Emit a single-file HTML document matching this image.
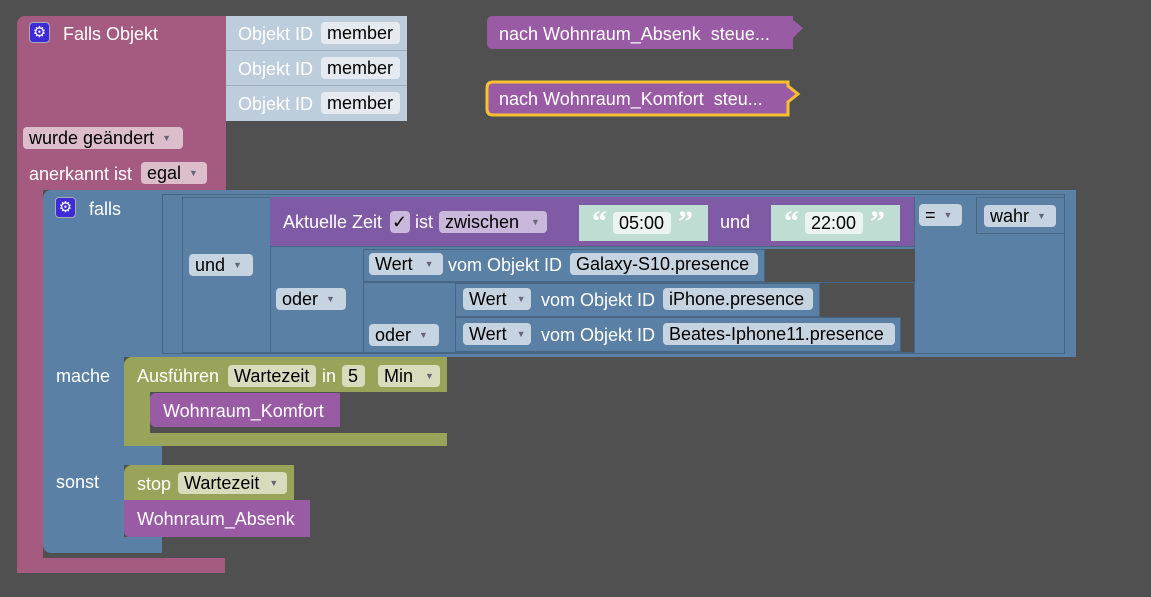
<!DOCTYPE html>
<html><head><meta charset="utf-8"><style>
body{margin:0;width:1151px;height:597px;background:#505050;overflow:hidden;position:relative;font-family:"Liberation Sans",sans-serif;font-size:18px}
div{position:absolute;box-sizing:border-box}
.t{color:#fff;white-space:nowrap;line-height:20px}
.f{border-radius:4px;color:#000;white-space:nowrap;line-height:22px;height:22px;padding-left:6px}
.ar{font-size:9px;margin-left:8px;vertical-align:3px;color:#667}
.pk{background:#a55b80}
.bl{background:#5b80a5}
.ln{border:1px solid #476684}
.pu{background:#805ba5}
.pr{background:#9a5ba5}
.ol{background:#9aa35a}
.gear{width:21px;height:21px;background:#3c2bd6;border:1px solid #aab;border-radius:4px;color:#fff;font-size:15px;text-align:center;line-height:19px}
.q{color:#fff;font-size:30px;line-height:30px;font-family:"Liberation Serif",serif;font-weight:bold}
</style></head><body>
<!-- pink block -->
<div class="pk" style="left:17px;top:16px;width:209px;height:174px;border-radius:8px 0 0 0"></div>
<div class="pk" style="left:17px;top:188px;width:26px;height:385px;border-radius:0 0 0 8px"></div>
<div class="pk" style="left:17px;top:558px;width:208px;height:15px"></div>
<div class="gear" style="left:29px;top:22px">⚙</div>
<div class="t" style="left:63px;top:24px">Falls Objekt</div>
<div style="left:226px;top:16px;width:181px;height:105px;background:#bdcddc"></div>
<div style="left:226px;top:50px;width:181px;height:1px;background:#9fb0c0"></div>
<div style="left:226px;top:85px;width:181px;height:1px;background:#9fb0c0"></div>
<div class="t" style="left:238px;top:24px">Objekt ID</div>
<div class="t" style="left:238px;top:59px">Objekt ID</div>
<div class="t" style="left:238px;top:94px">Objekt ID</div>
<div class="f" style="left:321px;top:22px;width:79px;background:#e4eaf0">member</div>
<div class="f" style="left:321px;top:57px;width:79px;background:#e4eaf0">member</div>
<div class="f" style="left:321px;top:92px;width:79px;background:#e4eaf0">member</div>
<div class="f" style="left:23px;top:127px;width:160px;background:#dbbdcc">wurde geändert<span class="ar">▼</span></div>
<div class="t" style="left:29px;top:164px">anerkannt ist</div>
<div class="f" style="left:141px;top:162px;width:66px;background:#dbbdcc">egal<span class="ar">▼</span></div>
<!-- blue falls -->
<div class="bl" style="left:43px;top:190px;width:1033px;height:167px;border-radius:8px 0 0 0"></div>
<div class="bl" style="left:43px;top:350px;width:81px;height:203px;border-radius:0 0 0 8px"></div>
<div class="bl" style="left:124px;top:446px;width:38px;height:19px"></div>
<div class="bl" style="left:124px;top:537px;width:38px;height:16px"></div>
<div class="gear" style="left:55px;top:197px">⚙</div>
<div class="t" style="left:89px;top:199px">falls</div>
<div class="ln" style="left:162px;top:194px;width:903px;height:160px"></div>
<div class="ln" style="left:182px;top:197px;width:733px;height:156px"></div>
<div class="ln" style="left:976px;top:197px;width:89px;height:37px"></div>
<div class="ln" style="left:270px;top:246px;width:645px;height:107px"></div>
<div class="ln" style="left:363px;top:282px;width:552px;height:71px"></div>
<div class="f" style="left:189px;top:254px;width:64px;background:#c6d3e0">und<span class="ar">▼</span></div>
<div class="f" style="left:276px;top:288px;width:70px;background:#c6d3e0">oder<span class="ar">▼</span></div>
<div class="f" style="left:369px;top:324px;width:70px;background:#c6d3e0">oder<span class="ar">▼</span></div>
<div class="f" style="left:919px;top:204px;width:43px;background:#c6d3e0">=<span class="ar">▼</span></div>
<div class="f" style="left:984px;top:205px;width:72px;background:#c6d3e0">wahr<span class="ar">▼</span></div>
<div style="left:765px;top:249px;width:150px;height:33px;background:#505050"></div>
<div style="left:820px;top:283px;width:94px;height:34px;background:#505050"></div>
<div style="left:901px;top:317px;width:13px;height:35px;background:#505050"></div>
<!-- aktuelle zeit -->
<div class="pu" style="left:270px;top:197px;width:644px;height:49px"></div>
<div class="t" style="left:283px;top:212px">Aktuelle Zeit</div>
<div class="f" style="left:390px;top:211px;width:20px;background:#c9b7dc;padding-left:2px">✓</div>
<div class="t" style="left:415px;top:212px">ist</div>
<div class="f" style="left:439px;top:211px;width:108px;background:#c9b7dc">zwischen<span class="ar" style="margin-left:12px">▼</span></div>
<div style="left:579px;top:205px;width:129px;height:36px;background:#c0ddd3"></div>
<div style="left:771px;top:205px;width:129px;height:36px;background:#c0ddd3"></div>
<div class="q" style="left:592px;top:207px">“</div>
<div class="q" style="left:678px;top:207px">”</div>
<div class="q" style="left:784px;top:207px">“</div>
<div class="q" style="left:870px;top:207px">”</div>
<div class="f" style="left:613px;top:212px;width:58px;background:#ebf4f1">05:00</div>
<div class="f" style="left:805px;top:212px;width:58px;background:#ebf4f1">22:00</div>
<div class="t" style="left:720px;top:212px">und</div>
<!-- rows -->
<div class="bl ln" style="left:363px;top:249px;width:402px;height:33px"></div>
<div class="f" style="left:369px;top:253px;width:74px;background:#c6d3e0">Wert<span class="ar" style="margin-left:12px">▼</span></div>
<div class="t" style="left:448px;top:255px">vom Objekt ID</div>
<div class="f" style="left:570px;top:253px;width:188px;background:#c6d3e0">Galaxy-S10.presence</div>
<div class="bl ln" style="left:455px;top:283px;width:365px;height:34px"></div>
<div class="f" style="left:463px;top:288px;width:68px;background:#c6d3e0">Wert<span class="ar" style="margin-left:10px">▼</span></div>
<div class="t" style="left:541px;top:290px">vom Objekt ID</div>
<div class="f" style="left:663px;top:288px;width:150px;background:#c6d3e0">iPhone.presence</div>
<div class="bl ln" style="left:455px;top:317px;width:446px;height:35px"></div>
<div class="f" style="left:463px;top:323px;width:68px;background:#c6d3e0">Wert<span class="ar" style="margin-left:10px">▼</span></div>
<div class="t" style="left:541px;top:325px">vom Objekt ID</div>
<div class="f" style="left:663px;top:323px;width:232px;background:#c6d3e0">Beates-Iphone11.presence</div>
<!-- mache -->
<div class="t" style="left:56px;top:366px">mache</div>
<div class="ol" style="left:124px;top:357px;width:323px;height:35px;border-radius:8px 0 0 0"></div>
<div class="ol" style="left:124px;top:390px;width:26px;height:56px;border-radius:0 0 0 8px"></div>
<div class="ol" style="left:124px;top:433px;width:323px;height:13px"></div>
<div class="t" style="left:137px;top:366px">Ausführen</div>
<div class="f" style="left:228px;top:365px;width:88px;background:#d8dcbd">Wartezeit</div>
<div class="t" style="left:322px;top:366px">in</div>
<div class="f" style="left:342px;top:365px;width:23px;background:#d8dcbd">5</div>
<div class="f" style="left:378px;top:365px;width:62px;background:#d8dcbd">Min<span class="ar" style="margin-left:12px">▼</span></div>
<div class="pr" style="left:150px;top:393px;width:190px;height:34px;border-radius:6px 0 0 6px"></div>
<div class="t" style="left:163px;top:401px">Wohnraum_Komfort</div>
<!-- sonst -->
<div class="t" style="left:56px;top:472px">sonst</div>
<div class="ol" style="left:124px;top:465px;width:170px;height:35px;border-radius:8px 0 0 0"></div>
<div class="t" style="left:137px;top:474px">stop</div>
<div class="f" style="left:178px;top:472px;width:109px;background:#d8dcbd">Wartezeit<span class="ar" style="margin-left:10px">▼</span></div>
<div class="pr" style="left:124px;top:500px;width:186px;height:37px;border-radius:0 0 0 6px"></div>
<div class="t" style="left:137px;top:509px">Wohnraum_Absenk</div>
<!-- procedures -->
<svg style="position:absolute;left:485px;top:14px" width="320" height="110">
<path d="M8,2 H308 L308,6 L318,14 L308,24 L308,35 H8 Q2,35 2,29 V8 Q2,2 8,2Z" fill="#9a5ba5"/>
<path d="M8,68 H303 L303,72 L313,80 L303,88 L303,101 H8 Q2,101 2,95 V74 Q2,68 8,68Z" fill="#9a5ba5" stroke="#f7c030" stroke-width="3"/>
</svg>
<div class="t" style="left:499px;top:24px">nach Wohnraum_Absenk&nbsp; steue...</div>
<div class="t" style="left:499px;top:89px">nach Wohnraum_Komfort&nbsp; steu...</div>
</body></html>
